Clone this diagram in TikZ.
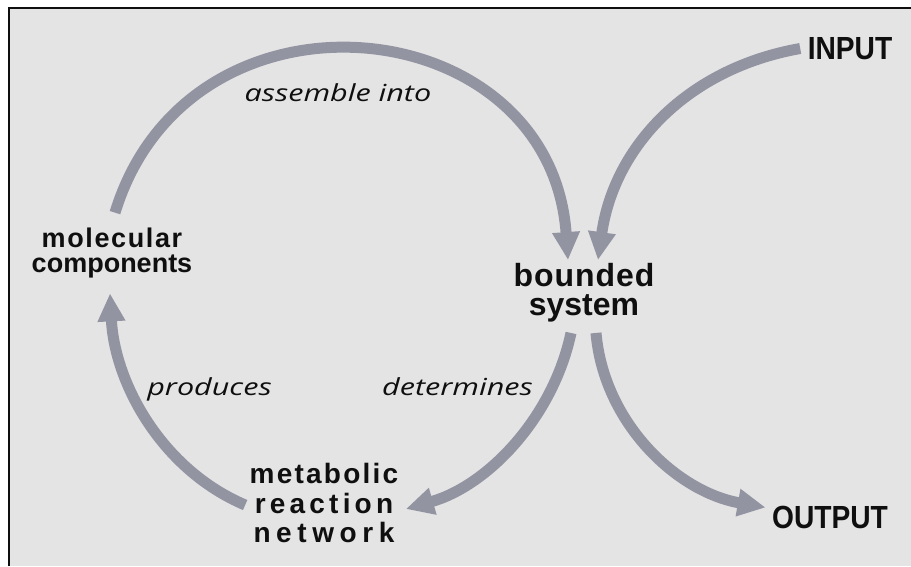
\documentclass[tikz,border=0pt]{standalone}
\usepackage{fontspec}
\setmainfont{Liberation Sans}
\newfontfamily\capsfont[FakeStretch=0.88]{Liberation Sans}
\newfontfamily\widefont{Liberation Sans}
\newfontfamily\verbfont[FakeStretch=1.3]{Open Sans}
\usetikzlibrary{arrows.meta,positioning}
\definecolor{BgClr}{RGB}{228,228,228}
\definecolor{FlowClr}{RGB}{146,148,162}
\definecolor{InkClr}{RGB}{15,15,15}
\newcommand{\spread}[2]{{\addfontfeature{LetterSpace=#1}#2}}

\begin{document}
\begin{tikzpicture}[x=1pt,y=1pt,
  flow/.style={line width=11pt,color=FlowClr,-{Triangle[width=26pt,length=28pt]}},
  part/.style={font=\widefont\fontsize{27}{24.5}\selectfont\bfseries,align=center,text=InkClr},
  hub/.style={font=\widefont\fontsize{32}{29}\selectfont\bfseries,align=center,text=InkClr},
  net/.style={font=\widefont\fontsize{28}{29.5}\selectfont\bfseries,align=center,text=InkClr},
  io/.style={font=\capsfont\fontsize{32}{32}\selectfont\bfseries,text=InkClr},
  verb/.style={font=\verbfont\fontsize{23.5}{23.5}\selectfont\itshape,text=InkClr}]
\useasboundingbox (0,0) rectangle (911,566);
\fill[BgClr] (9,0) rectangle (911,558);
\draw[line width=2pt,InkClr] (9,0) -- (9,558) -- (911,558);

% labels
\node[part] (mol) at (112,313) {\spread{6}{molecular}\\components};
\node[hub] (bnd) at (584,273) {\spread{3}{bounded}\\system};
\node[net] (met) at (324,63) {\spread{8}{metabolic}\\\spread{15}{reaction}\\\spread{20}{network}};
\node[io] (inp) at (850,517.5) {INPUT};
\node[io] (outp) at (830,48.5) {OUTPUT};
\node[verb] (asm) at (338,473.5) {assemble into};
\node[verb] (prd) at (209.5,177) {produces};
\node[verb] (det) at (457.5,179) {determines};

% arrows
\draw[flow] ([shift={(3,12)}]mol.north) to[out=73,in=94,looseness=1.42] ([xshift=-16]bnd.north);
\draw[flow] ([xshift=-4]inp.west) to[out=190,in=82] ([xshift=14]bnd.north);
\draw[flow] ([shift={(-13,-7)}]bnd.south) to[out=-102,in=16,looseness=0.91] ([shift={(4,-6)}]met.east);
\draw[flow] ([shift={(-1,-2)}]met.west) to[out=157,in=-87,looseness=0.92] ([shift={(-2,-12)}]mol.south);
\draw[flow] ([shift={(12,-7)}]bnd.south) to[out=-85,in=170,looseness=0.95] ([shift={(-3,10)}]outp.west);

\end{tikzpicture}
\end{document}
